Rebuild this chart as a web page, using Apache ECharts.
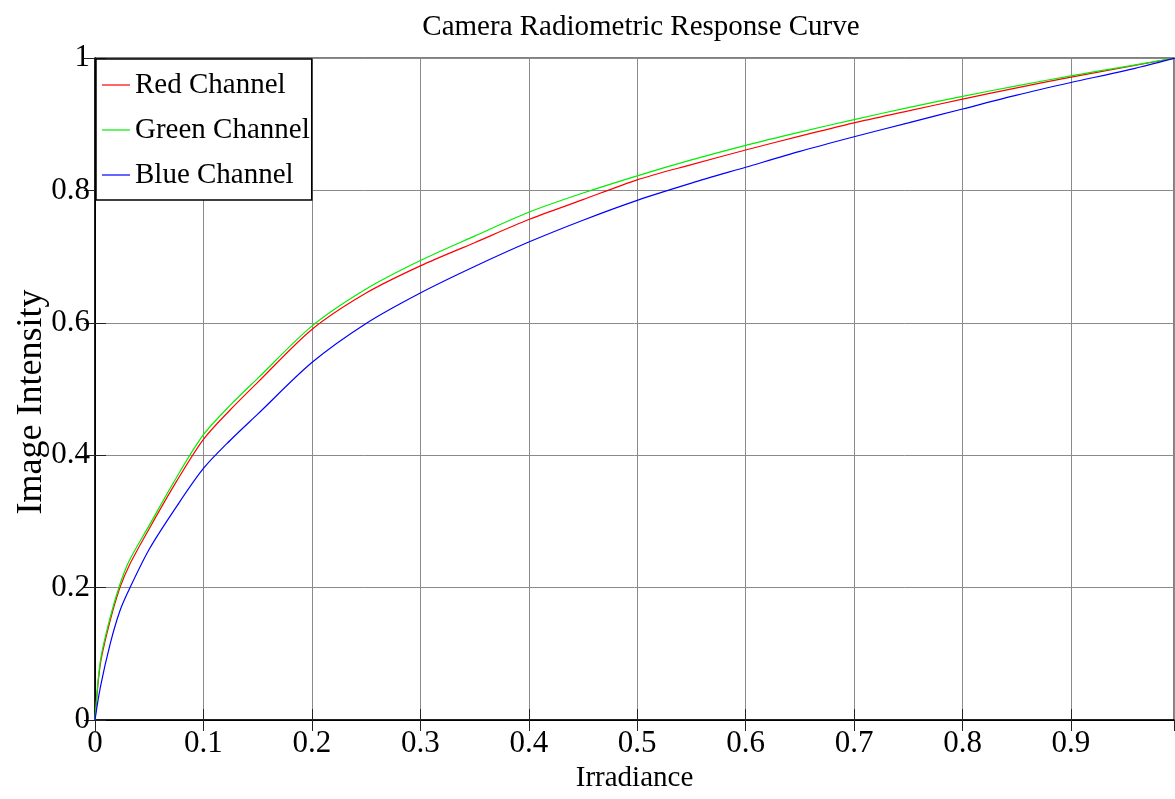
<!DOCTYPE html>
<html>
<head>
<meta charset="utf-8">
<script src="https://cdn.jsdelivr.net/npm/echarts@6/dist/echarts.min.js"></script>
<style>
html,body{margin:0;padding:0;background:#fff;}
#chart{width:1175px;height:799px;}
</style>
</head>
<body>
<div id="chart"></div>
<script>
const irradiance = [0, 0.005, 0.014, 0.023, 0.032, 0.05, 0.075, 0.1, 0.125, 0.15, 0.2, 0.25, 0.3, 0.35, 0.4, 0.45, 0.5, 0.55, 0.6, 0.65, 0.7, 0.75, 0.8, 0.85, 0.9, 0.95, 0.996];
const redChannel   = [0, 0.085, 0.150, 0.200, 0.235, 0.289, 0.360, 0.424, 0.469, 0.510, 0.590, 0.645, 0.686, 0.721, 0.756, 0.786, 0.816, 0.839, 0.861, 0.882, 0.902, 0.920, 0.938, 0.955, 0.971, 0.986, 1.0];
const greenChannel = [0, 0.090, 0.155, 0.205, 0.242, 0.294, 0.366, 0.431, 0.476, 0.516, 0.595, 0.651, 0.694, 0.731, 0.767, 0.796, 0.822, 0.846, 0.868, 0.888, 0.907, 0.925, 0.942, 0.958, 0.973, 0.987, 1.0];
const blueChannel  = [0, 0.050, 0.115, 0.165, 0.199, 0.258, 0.322, 0.380, 0.423, 0.462, 0.540, 0.599, 0.645, 0.685, 0.722, 0.755, 0.785, 0.811, 0.835, 0.859, 0.881, 0.902, 0.923, 0.944, 0.963, 0.981, 1.0];
const seriesNames = ['Red Channel', 'Green Channel', 'Blue Channel'];
const seriesColors = ['#ff0000', '#00ee00', '#0000ff'];
const titleText = 'Camera Radiometric Response Curve';
const xName = 'Irradiance';
const yName = 'Image Intensity';

const FONT = '"Liberation Serif", "Times New Roman", serif';
const chart = echarts.init(document.getElementById('chart'), null, {renderer: 'canvas'});
const pairs = ys => irradiance.map((x, i) => [x, ys[i]]);
const allY = [redChannel, greenChannel, blueChannel];

const tickCommon = {show: true, inside: true, length: 11, lineStyle: {color: '#222', width: 1}};

chart.setOption({
  backgroundColor: '#fff',
  animation: false,
  title: {
    text: titleText,
    left: 636, textAlign: 'center', top: 8,
    textStyle: {fontFamily: FONT, fontSize: 29, fontWeight: 'normal', color: '#000'}
  },
  grid: {left: 95, right: 1, top: 58, bottom: 79, outerBoundsMode: 'none', containLabel: false,
         show: true, borderColor: '#000', borderWidth: 1, backgroundColor: 'transparent'},
  legend: {
    orient: 'vertical', left: 96, top: 59,
    data: seriesNames.map(n => ({name: n, icon: 'rect'})),
    itemWidth: 28, itemHeight: 1.2, itemGap: 15,
    padding: [11, 2, 10, 6],
    backgroundColor: '#fff', borderColor: '#000', borderWidth: 1.5,
    textStyle: {fontFamily: FONT, fontSize: 29, color: '#000', lineHeight: 30}
  },
  xAxis: [{
    type: 'value', min: 0, max: 0.995, interval: 0.1,
    name: xName, nameLocation: 'middle', nameGap: 44, nameMoveOverlap: false,
    nameTextStyle: {fontFamily: FONT, fontSize: 29, color: '#000'},
    axisLine: {show: true, onZero: false, lineStyle: {color: '#000', width: 1.5}},
    axisTick: tickCommon,
    axisLabel: {fontFamily: FONT, fontSize: 31, color: '#000', margin: 8, showMaxLabel: false},
    splitLine: {show: true, lineStyle: {color: '#8a8a8a', width: 1}}
  }, {
    type: 'value', min: 0, max: 0.995, interval: 0.1, position: 'top',
    axisLine: {show: true, lineStyle: {color: '#000', width: 1}},
    axisTick: tickCommon, axisLabel: {show: false}, splitLine: {show: false}
  }],
  yAxis: [{
    type: 'value', min: 0, max: 1, interval: 0.2,
    name: yName, nameLocation: 'middle', nameGap: 45, nameMoveOverlap: false,
    nameTextStyle: {fontFamily: FONT, fontSize: 36, color: '#000', padding: [0, 26, 0, 0]},
    axisLine: {show: true, onZero: false, lineStyle: {color: '#000', width: 1.5}},
    axisTick: tickCommon,
    axisLabel: {fontFamily: FONT, fontSize: 31, color: '#000', margin: 5},
    splitLine: {show: true, lineStyle: {color: '#8a8a8a', width: 1}}
  }, {
    type: 'value', min: 0, max: 1, interval: 0.2, position: 'right',
    axisLine: {show: true, lineStyle: {color: '#000', width: 1}},
    axisTick: tickCommon, axisLabel: {show: false}, splitLine: {show: false}
  }],
  series: seriesNames.map((name, k) => ({
    name, type: 'line', xAxisIndex: 0, yAxisIndex: 0,
    data: pairs(allY[k]),
    showSymbol: false, symbol: 'none',
    smooth: 0.3,
    color: seriesColors[k],
    itemStyle: {color: seriesColors[k]},
    lineStyle: {color: seriesColors[k], width: 1.2},
    z: 3
  }))
});
</script>
</body>
</html>
